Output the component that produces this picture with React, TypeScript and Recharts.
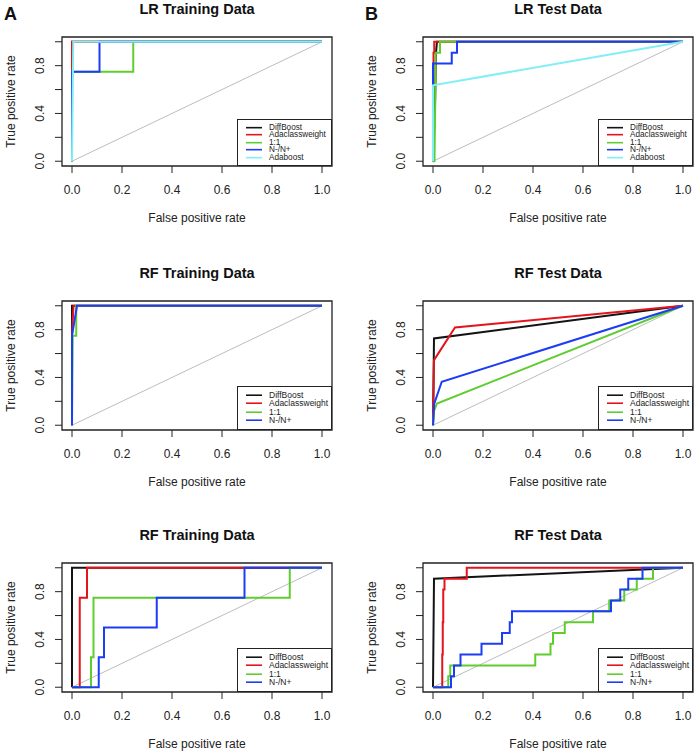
import React from 'react';
import { LineChart, Line, XAxis, YAxis, ReferenceArea, Legend } from 'recharts';

type Pt = [number, number];

const FONT = '"Liberation Sans", Arial, Helvetica, sans-serif';

const methodNames = ['DiffBoost', 'Adaclassweight', '1:1', 'N-/N+', 'Adaboost'];
const methodColors = ['#141414', '#e3141c', '#5fcd2f', '#1c3cf5', '#80eff6'];
const axisTicks = [0, 0.2, 0.4, 0.6, 0.8, 1];
const yLabelTicks = [0, 0.4, 0.8];
const chanceLine: Pt[] = [[0, 0], [1, 1]];
const panelTitles = ['LR Training Data', 'LR Test Data', 'RF Training Data', 'RF Test Data', 'RF Training Data', 'RF Test Data'];
const columnLetters = ['A', 'B'];

// LR, training
const lrTrainDiffBoost: Pt[] = [[0, 0], [0, 1], [1, 1]];
const lrTrainAdaclass: Pt[] = [[0, 0], [0, 1], [1, 1]];
const lrTrainBalanced: Pt[] = [[0, 0], [0, 0.75], [0.245, 0.75], [0.245, 1], [1, 1]];
const lrTrainRatio: Pt[] = [[0, 0], [0, 0.75], [0.11, 0.75], [0.11, 1], [1, 1]];
const lrTrainAdaboost: Pt[] = [[0, 0], [0.005, 1], [1, 1]];

// LR, test
const lrTestDiffBoost: Pt[] = [[0, 0], [0.008, 0.455], [0.012, 0.909], [0.016, 1], [1, 1]];
const lrTestAdaclass: Pt[] = [[0, 0], [0, 0.636], [0.002, 0.636], [0.002, 0.909], [0.005, 0.909], [0.005, 1], [1, 1]];
const lrTestBalanced: Pt[] = [[0, 0], [0.006, 0], [0.011, 0.909], [0.028, 0.909], [0.028, 1], [1, 1]];
const lrTestRatio: Pt[] = [[0, 0], [0, 0.818], [0.075, 0.818], [0.075, 0.909], [0.096, 0.909], [0.096, 1], [1, 1]];
const lrTestAdaboost: Pt[] = [[0, 0], [0, 0.636], [1, 1]];

// RF, training (first run)
const rfTrainDiffBoost: Pt[] = [[0, 0], [0, 1], [1, 1]];
const rfTrainAdaclass: Pt[] = [[0, 0], [0, 0.75], [0.006, 1], [1, 1]];
const rfTrainBalanced: Pt[] = [[0, 0], [0.003, 0.75], [0.017, 0.75], [0.017, 1], [1, 1]];
const rfTrainRatio: Pt[] = [[0, 0], [0, 0.75], [0.02, 1], [1, 1]];

// RF, test (first run)
const rfTestDiffBoost: Pt[] = [[0, 0], [0.004, 0.727], [1, 1]];
const rfTestAdaclass: Pt[] = [[0, 0], [0.004, 0.545], [0.088, 0.818], [1, 1]];
const rfTestBalanced: Pt[] = [[0, 0], [0.004, 0.12], [0.016, 0.182], [1, 1]];
const rfTestRatio: Pt[] = [[0, 0], [0.005, 0.18], [0.035, 0.364], [1, 1]];

// RF, training (second run)
const rfTrain2DiffBoost: Pt[] = [[0, 0], [0, 1], [1, 1]];
const rfTrain2Adaclass: Pt[] = [[0, 0], [0.031, 0], [0.031, 0.75], [0.06, 0.75], [0.06, 1], [1, 1]];
const rfTrain2Balanced: Pt[] = [[0, 0], [0.076, 0], [0.076, 0.25], [0.086, 0.25], [0.086, 0.75], [0.871, 0.75], [0.871, 1], [1, 1]];
const rfTrain2Ratio: Pt[] = [[0, 0], [0.107, 0], [0.107, 0.25], [0.128, 0.25], [0.128, 0.5], [0.339, 0.5], [0.339, 0.75], [0.69, 0.75], [0.69, 1], [1, 1]];

// RF, test (second run)
const rfTest2DiffBoost: Pt[] = [[0, 0], [0.004, 0.909], [1, 1]];
const rfTest2Adaclass: Pt[] = [[0, 0], [0.037, 0], [0.037, 0.273], [0.039, 0.273], [0.039, 0.545], [0.041, 0.545], [0.041, 0.818], [0.046, 0.818], [0.046, 0.909], [0.135, 0.909], [0.135, 1], [1, 1]];
const rfTest2Balanced: Pt[] = [[0, 0], [0.061, 0], [0.061, 0.091], [0.069, 0.091], [0.069, 0.182], [0.409, 0.182], [0.409, 0.273], [0.47, 0.273], [0.47, 0.364], [0.48, 0.364], [0.48, 0.455], [0.527, 0.455], [0.527, 0.545], [0.64, 0.545], [0.64, 0.636], [0.705, 0.636], [0.705, 0.727], [0.765, 0.727], [0.765, 0.818], [0.815, 0.818], [0.815, 0.909], [0.88, 0.909], [0.88, 1], [1, 1]];
const rfTest2Ratio: Pt[] = [[0, 0], [0.072, 0], [0.072, 0.091], [0.084, 0.091], [0.084, 0.182], [0.11, 0.182], [0.11, 0.273], [0.194, 0.273], [0.194, 0.364], [0.276, 0.364], [0.276, 0.455], [0.307, 0.455], [0.307, 0.545], [0.316, 0.545], [0.316, 0.636], [0.712, 0.636], [0.712, 0.727], [0.749, 0.727], [0.749, 0.818], [0.781, 0.818], [0.781, 0.909], [0.838, 0.909], [0.838, 1], [1, 1]];

const panelCurves: Pt[][][] = [
  [lrTrainDiffBoost, lrTrainAdaclass, lrTrainBalanced, lrTrainRatio, lrTrainAdaboost],
  [lrTestDiffBoost, lrTestAdaclass, lrTestBalanced, lrTestRatio, lrTestAdaboost],
  [rfTrainDiffBoost, rfTrainAdaclass, rfTrainBalanced, rfTrainRatio],
  [rfTestDiffBoost, rfTestAdaclass, rfTestBalanced, rfTestRatio],
  [rfTrain2DiffBoost, rfTrain2Adaclass, rfTrain2Balanced, rfTrain2Ratio],
  [rfTest2DiffBoost, rfTest2Adaclass, rfTest2Balanced, rfTest2Ratio],
];

const toRows = (pts: Pt[]) => pts.map(([x, y]) => ({ x, y }));

const CHART_W = 350;
const CHART_H = 230;
const PLOT_TOP = 37;
const PLOT_H = 129;
const PLOT_W = 270;
const ROW_TOPS = [0, 264, 526];

const YTick = (props: any) => {
  const { x, y, payload } = props;
  if (!yLabelTicks.some((v) => Math.abs(v - payload.value) < 1e-9)) return null;
  const bx = x - 8.7;
  return (
    <text x={bx} y={y} transform={`rotate(-90 ${bx} ${y})`} textAnchor="middle" fontSize={12} fill="#222" fontFamily={FONT}>
      {Number(payload.value).toFixed(1)}
    </text>
  );
};

// legend keeps the original series order (recharts would sort it)
const RocLegend = ({ count }: { count: number }) => {
  const five = count === 5;
  const h = five ? 47.5 : 44.5;
  const first = five ? 9.3 : 9.5;
  const gap = five ? 7.35 : 8.4;
  const fs = five ? 8.2 : 8.5;
  return (
    <div style={{ position: 'relative', width: 95, height: h, boxSizing: 'border-box', border: '1px solid #222', background: '#fff', fontFamily: FONT }}>
      {methodNames.slice(0, count).map((name, i) => (
        <div key={name} style={{ position: 'absolute', left: 0, top: first + i * gap - gap / 2 - 1, height: gap, width: 94, lineHeight: `${gap}px` }}>
          <svg width={26} height={gap} style={{ position: 'absolute', left: 0, top: 0 }}>
            <line x1={8} x2={24} y1={gap / 2} y2={gap / 2} stroke={methodColors[i]} strokeWidth={1.6} />
          </svg>
          <span style={{ position: 'absolute', left: 31, top: 0, fontSize: fs, lineHeight: `${gap}px`, color: '#222', whiteSpace: 'nowrap' }}>{name}</span>
        </div>
      ))}
    </div>
  );
};

const Panel = ({ index }: { index: number }) => {
  const col = index % 2;
  const row = Math.floor(index / 2);
  const left = col * CHART_W;
  const top = ROW_TOPS[row];
  const plotLeft = col === 0 ? 62 : 73;
  const plotBottom = PLOT_TOP + PLOT_H;
  const curves = panelCurves[index];
  const legendH = curves.length === 5 ? 47.5 : 44.5;

  return (
    <div style={{ position: 'absolute', left, top, width: CHART_W, height: CHART_H }}>
      <div style={{ position: 'absolute', left: plotLeft, top: 1, width: PLOT_W, textAlign: 'center', fontWeight: 'bold', fontSize: 14.5, lineHeight: '16px', color: '#111', fontFamily: FONT, zIndex: 2 }}>
        {panelTitles[index]}
      </div>
      <LineChart width={CHART_W} height={CHART_H} margin={{ top: PLOT_TOP, right: CHART_W - plotLeft - PLOT_W, bottom: 0, left: 0 }}>
        <XAxis
          type="number"
          dataKey="x"
          domain={[-0.04, 1.04]}
          ticks={axisTicks}
          interval={0}
          allowDataOverflow
          height={CHART_H - PLOT_TOP - PLOT_H}
          axisLine={false}
          tickLine={{ stroke: '#222' }}
          tickSize={7}
          tickMargin={12}
          tickFormatter={(v: number) => v.toFixed(1)}
          tick={{ fontSize: 12, fill: '#222', fontFamily: FONT }}
          label={() => (
            <text x={plotLeft + PLOT_W / 2} y={plotBottom + 56} textAnchor="middle" fontSize={12} fill="#222" fontFamily={FONT}>
              False positive rate
            </text>
          )}
        />
        <YAxis
          type="number"
          dataKey="y"
          domain={[-0.04, 1.04]}
          ticks={axisTicks}
          interval={0}
          allowDataOverflow
          width={plotLeft}
          axisLine={false}
          tickLine={{ stroke: '#222' }}
          tickSize={7}
          tickMargin={2}
          tick={(p: any) => <YTick {...p} />}
          label={() => {
            const lx = plotLeft - 51 + 4.3;
            const ly = PLOT_TOP + PLOT_H / 2;
            return (
              <text x={lx} y={ly} transform={`rotate(-90 ${lx} ${ly})`} textAnchor="middle" fontSize={12} fill="#222" fontFamily={FONT}>
                True positive rate
              </text>
            );
          }}
        />
        <ReferenceArea x1={-0.04} x2={1.04} y1={-0.04} y2={1.04} fill="none" stroke="#222" strokeWidth={1.3} ifOverflow="visible" />
        <Line data={toRows(chanceLine)} dataKey="y" type="linear" stroke="#bdbdbd" strokeWidth={1} dot={false} legendType="none" isAnimationActive={false} />
        {curves.map((pts, i) => (
          <Line
            key={methodNames[i]}
            name={methodNames[i]}
            data={toRows(pts)}
            dataKey="y"
            type="linear"
            stroke={methodColors[i]}
            strokeWidth={2}
            dot={false}
            isAnimationActive={false}
          />
        ))}
        <Legend
          layout="vertical"
          align="center"
          verticalAlign="middle"
          wrapperStyle={{ left: plotLeft + PLOT_W - 95, top: plotBottom - legendH, width: 95, height: legendH }}
          content={() => <RocLegend count={curves.length} />}
        />
      </LineChart>
    </div>
  );
};

export default function App() {
  return (
    <div style={{ position: 'absolute', left: 0, top: 0, width: 700, height: 756, background: '#fff', fontFamily: FONT, overflow: 'hidden' }}>
      {panelTitles.map((_, i) => (
        <Panel key={i} index={i} />
      ))}
      {columnLetters.map((l, i) => (
        <div key={l} style={{ position: 'absolute', left: i === 0 ? 4 : 365, top: 4, fontSize: 18, lineHeight: '20px', fontWeight: 'bold', color: '#111', fontFamily: FONT, zIndex: 3 }}>
          {l}
        </div>
      ))}
    </div>
  );
}
